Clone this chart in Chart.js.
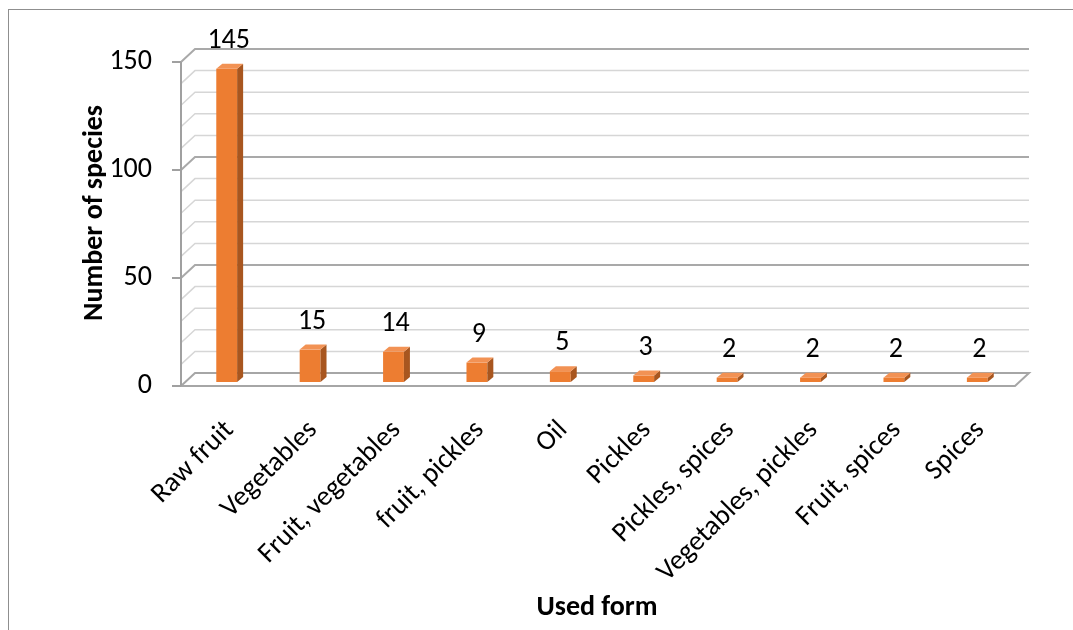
<!DOCTYPE html>
<html>
<head>
<meta charset="utf-8">
<title>Used form – number of species</title>
<script src="https://cdn.jsdelivr.net/npm/chart.js@4.4.1/dist/chart.umd.min.js"></script>
<style>
  html, body { margin: 0; padding: 0; background: #fff; overflow: hidden; }
  #wrap { position: relative; width: 1073px; height: 630px; overflow: hidden; }
  #frame { position: absolute; left: 8px; top: 9px; width: 1200px; height: 800px;
           border-left: 1.5px solid #8f8f8f; border-top: 1.5px solid #8f8f8f; }
  canvas { position: absolute; left: 0; top: 0; }
</style>
</head>
<body>
<div id="wrap">
  <div id="frame"></div>
  <canvas id="chart" width="1073" height="630"></canvas>
</div>
<script>
// ---- data ----
const categories = ['Raw fruit', 'Vegetables', 'Fruit, vegetables', 'fruit, pickles', 'Oil',
                    'Pickles', 'Pickles, spices', 'Vegetables, pickles', 'Fruit, spices', 'Spices'];
const speciesCounts = [145, 15, 14, 9, 5, 3, 2, 2, 2, 2];
const yTickLabels = [0, 50, 100, 150];
const xAxisTitle = 'Used form';
const yAxisTitle = 'Number of species';

// ---- look ----
const FONT = 'Carlito, Calibri, Lato, sans-serif';
const TICK_SIZE = 28;
const DEPTH = { dx: 14, dy: -13 };     // floor / back wall depth
const BAR_SHIFT = { dx: 4, dy: -4 };   // columns stand slightly behind the front edge
const BAR_SIDE = { dx: 6, dy: -5 };    // visible thickness of each column
const COL_FRONT = '#ED7D31';
const COL_SIDE = '#A8561F';
const COL_TOP = '#F29254';

const wall3d = {
  id: 'wall3d',
  beforeDatasetsDraw(chart) {
    const { ctx, chartArea: a, scales: { y } } = chart;
    const y0 = y.getPixelForValue(0);
    ctx.save();
    // floor plate
    ctx.beginPath();
    ctx.moveTo(a.left, y0);
    ctx.lineTo(a.right, y0);
    ctx.lineTo(a.right + DEPTH.dx, y0 + DEPTH.dy);
    ctx.lineTo(a.left + DEPTH.dx, y0 + DEPTH.dy);
    ctx.closePath();
    ctx.fillStyle = '#fff';
    ctx.fill();
    ctx.strokeStyle = '#a6a6a6';
    ctx.lineWidth = 2;
    ctx.stroke();
    // back-wall grid lines with their side-wall diagonals
    y.ticks.forEach(t => {
      if (t.value === 0) return;
      const py = y.getPixelForValue(t.value);
      const major = t.value % 50 === 0;
      ctx.beginPath();
      ctx.moveTo(a.left, py);
      ctx.lineTo(a.left + DEPTH.dx, py + DEPTH.dy);
      ctx.lineTo(a.right + DEPTH.dx, py + DEPTH.dy);
      ctx.strokeStyle = major ? '#a9a9a9' : '#d6d6d6';
      ctx.lineWidth = major ? 2 : 1.5;
      ctx.stroke();
    });
    // front value axis and its tick marks
    ctx.beginPath();
    ctx.moveTo(a.left, y.getPixelForValue(150));
    ctx.lineTo(a.left, y0);
    yTickLabels.forEach(v => {
      const py = y.getPixelForValue(v);
      ctx.moveTo(a.left - 9, py);
      ctx.lineTo(a.left, py);
    });
    ctx.strokeStyle = '#a0a0a0';
    ctx.lineWidth = 2;
    ctx.stroke();
    ctx.restore();

    ctx.save();
    ctx.translate(BAR_SHIFT.dx, BAR_SHIFT.dy);
  },
  afterDatasetsDraw(chart) {
    const ctx = chart.ctx;
    const meta = chart.getDatasetMeta(0);
    meta.data.forEach(bar => {
      const { x, y, base, width } = bar.getProps(['x', 'y', 'base', 'width'], true);
      const l = x - width / 2, r = x + width / 2;
      ctx.beginPath();
      ctx.moveTo(r, y);
      ctx.lineTo(r + BAR_SIDE.dx, y + BAR_SIDE.dy);
      ctx.lineTo(r + BAR_SIDE.dx, base + BAR_SIDE.dy);
      ctx.lineTo(r, base);
      ctx.closePath();
      ctx.fillStyle = COL_SIDE;
      ctx.fill();
      ctx.beginPath();
      ctx.moveTo(l, y);
      ctx.lineTo(l + BAR_SIDE.dx, y + BAR_SIDE.dy);
      ctx.lineTo(r + BAR_SIDE.dx, y + BAR_SIDE.dy);
      ctx.lineTo(r, y);
      ctx.closePath();
      ctx.fillStyle = COL_TOP;
      ctx.fill();
    });
    ctx.restore();

    // value labels above each column
    ctx.save();
    ctx.font = TICK_SIZE + 'px ' + FONT;
    ctx.fillStyle = '#000';
    ctx.textAlign = 'center';
    ctx.textBaseline = 'middle';
    meta.data.forEach((bar, i) => {
      const { x, y } = bar.getProps(['x', 'y'], true);
      ctx.fillText(String(speciesCounts[i]), x + BAR_SHIFT.dx + 2, y + BAR_SHIFT.dy - 28);
    });
    ctx.restore();
  },
  afterDraw(chart) {
    const ctx = chart.ctx;
    ctx.save();
    ctx.fillStyle = '#000';
    ctx.font = 'bold 28px ' + FONT;
    ctx.textAlign = 'center';
    ctx.textBaseline = 'middle';
    ctx.fillText(xAxisTitle, 597, 608);
    ctx.translate(95, 213);
    ctx.rotate(-Math.PI / 2);
    ctx.fillText(yAxisTitle, 0, 0);
    ctx.restore();
  }
};

new Chart(document.getElementById('chart'), {
  type: 'bar',
  data: {
    labels: categories,
    datasets: [{
      data: speciesCounts,
      backgroundColor: COL_FRONT,
      borderWidth: 0,
      categoryPercentage: 1,
      barPercentage: 0.25
    }]
  },
  options: {
    responsive: false,
    animation: false,
    devicePixelRatio: 1,
    layout: { padding: { top: 62, right: 58, left: 0, bottom: 0 } },
    plugins: { legend: { display: false }, tooltip: { enabled: false } },
    scales: {
      x: {
        grid: { display: false, drawTicks: false },
        border: { display: false },
        ticks: {
          autoSkip: false, minRotation: 45, maxRotation: 45, padding: 28, labelOffset: 7,
          color: '#000', font: { family: FONT, size: TICK_SIZE }
        },
        afterFit: s => { s.height = 244; }
      },
      y: {
        min: 0, max: 150,
        grid: { display: false, drawTicks: false },
        border: { display: false },
        ticks: {
          autoSkip: false, stepSize: 10, padding: 29, color: '#000',
          font: { family: FONT, size: TICK_SIZE },
          callback: v => (yTickLabels.includes(v) ? String(v) : '')
        },
        afterFit: s => { s.width = 181; }
      }
    }
  },
  plugins: [wall3d]
});
</script>
</body>
</html>
